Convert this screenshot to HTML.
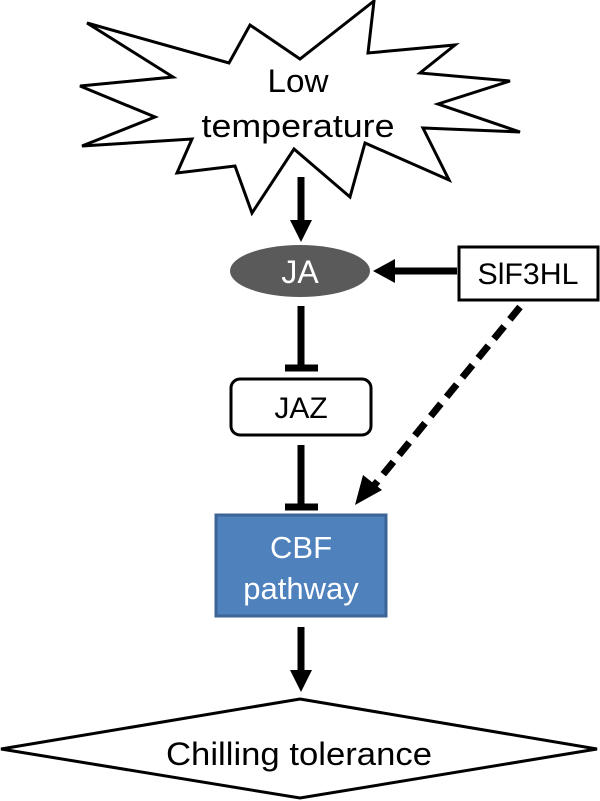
<!DOCTYPE html>
<html><head><style>body{margin:0;background:#fff}svg{display:block}</style></head>
<body>
<svg width="600" height="801" viewBox="0 0 600 801" xmlns="http://www.w3.org/2000/svg" font-family="Liberation Sans, sans-serif">
<polygon points="87,23 229,63 250,25 300,59 374,1 368,53 455,45 420,73 510,81 438,104 520,132 423,128 449,180 365,143 350,197 294,149 252,213 235,166 177,173 192,139 82,146 155,117 80,86 173,77" fill="#fff" stroke="#000" stroke-width="3" stroke-linejoin="miter"/>
<text x="298" y="92" font-size="32" text-anchor="middle" textLength="61" lengthAdjust="spacingAndGlyphs">Low</text>
<text x="298" y="137" font-size="32" text-anchor="middle" textLength="193" lengthAdjust="spacingAndGlyphs">temperature</text>
<line x1="301" y1="177" x2="301" y2="224" stroke="#000" stroke-width="7"/>
<polygon points="290,220 312,220 301,242" fill="#000"/>
<ellipse cx="300" cy="271" rx="70" ry="26" fill="#5a5a5a"/>
<text x="300" y="283" font-size="32" fill="#fff" text-anchor="middle">JA</text>
<rect x="459" y="247" width="139" height="53" fill="#fff" stroke="#000" stroke-width="3"/>
<text x="528" y="284" font-size="30" text-anchor="middle" textLength="101" lengthAdjust="spacingAndGlyphs">SlF3HL</text>
<line x1="457" y1="271" x2="390" y2="271" stroke="#000" stroke-width="7"/>
<polygon points="373,271 395,259 395,283" fill="#000"/>
<line x1="301" y1="306" x2="301" y2="368" stroke="#000" stroke-width="7"/>
<line x1="285" y1="368" x2="318" y2="368" stroke="#000" stroke-width="7"/>
<rect x="231" y="379" width="140" height="56" rx="9" fill="#fff" stroke="#000" stroke-width="3"/>
<text x="301" y="418" font-size="30" text-anchor="middle">JAZ</text>
<line x1="301" y1="445" x2="301" y2="507" stroke="#000" stroke-width="7"/>
<line x1="285" y1="507" x2="318" y2="507" stroke="#000" stroke-width="7"/>
<rect x="216" y="515" width="170" height="101" fill="#4f81bd" stroke="#3c6496" stroke-width="3"/>
<text x="301" y="558" font-size="31" fill="#fff" text-anchor="middle">CBF</text>
<text x="301" y="599" font-size="31" fill="#fff" text-anchor="middle">pathway</text>
<line x1="520" y1="307" x2="372" y2="488" stroke="#000" stroke-width="7" stroke-dasharray="16,9"/>
<polygon points="355,505 363,475 382,490" fill="#000"/>
<line x1="301" y1="627" x2="301" y2="674" stroke="#000" stroke-width="7"/>
<polygon points="290,670 312,670 301,692" fill="#000"/>
<polygon points="300,699 597,749 300,798 1,749" fill="#fff" stroke="#000" stroke-width="3"/>
<text x="299" y="765" font-size="32" text-anchor="middle" textLength="266" lengthAdjust="spacingAndGlyphs">Chilling tolerance</text>
</svg>
</body></html>
